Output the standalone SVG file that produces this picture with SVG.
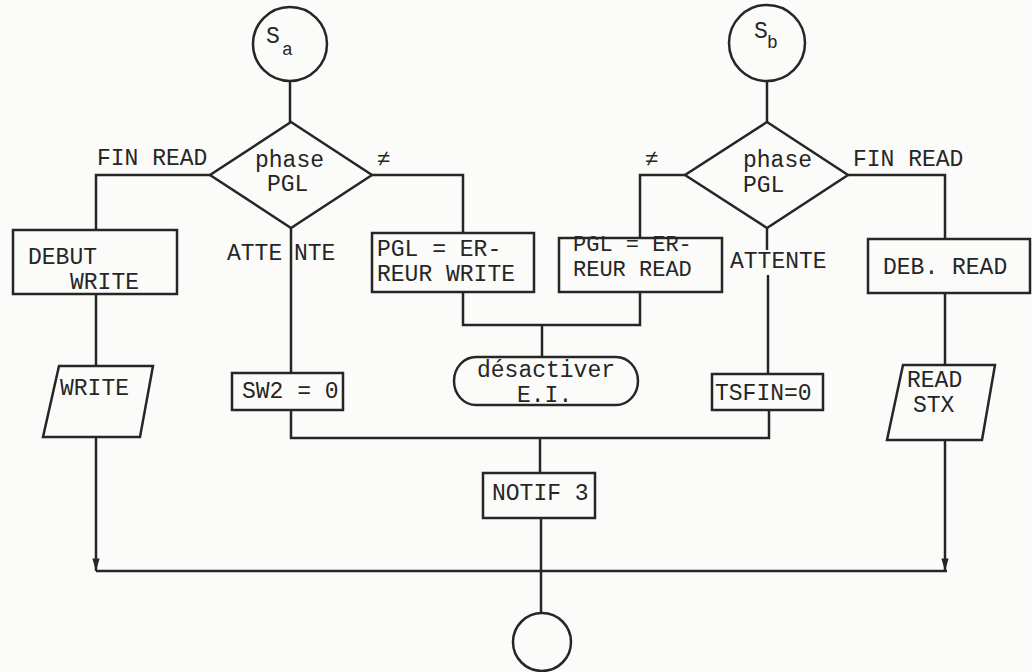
<svg xmlns="http://www.w3.org/2000/svg" width="1032" height="672" viewBox="0 0 1032 672">
<defs>
<style>
.s{fill:none;stroke:#262626;stroke-width:2.5;stroke-linejoin:miter}
.n{fill:#fbfbf9;stroke:#262626;stroke-width:2.5}
text{font-family:"Liberation Mono","DejaVu Sans Mono",monospace;font-size:23px;fill:#262626}
.sub{font-size:18px}
.t2{font-size:22px}
</style>
<marker id="ar" viewBox="0 0 14 10" refX="14" refY="5" markerWidth="13" markerHeight="9" orient="auto" markerUnits="userSpaceOnUse">
<path d="M0,1 L14,5 L0,9 Z" fill="#262626"/>
</marker>
</defs>
<rect x="0" y="0" width="1032" height="672" fill="#fbfbf9"/>

<g id="connectors" class="s">
<line x1="290" y1="81" x2="290" y2="122"/>
<line x1="767" y1="81" x2="767" y2="122"/>
<polyline points="210,175 96,175 96,230"/>
<polyline points="372,175 463,175 463,233"/>
<line x1="291" y1="228" x2="291" y2="373"/>
<polyline points="685,175 640,175 640,238"/>
<polyline points="848,175 945,175 945,239"/>
<line x1="767" y1="228" x2="767" y2="250"/>
<line x1="768" y1="275" x2="768" y2="374"/>
<line x1="96" y1="294" x2="96" y2="366"/>
<line x1="945" y1="293" x2="945" y2="365"/>
<polyline points="463,292 463,325 640,325 640,292"/>
<line x1="542" y1="325" x2="542" y2="357"/>
<polyline points="291,410 291,438 769,438 769,410"/>
<line x1="540" y1="438" x2="540" y2="473"/>
<line x1="541" y1="518" x2="541" y2="614"/>
<line x1="96" y1="437" x2="96" y2="571" marker-end="url(#ar)"/>
<line x1="945" y1="440" x2="945" y2="571" marker-end="url(#ar)"/>
<line x1="96" y1="571" x2="947" y2="571"/>
</g>

<g id="labels">
<text x="97" y="165">FIN READ</text>
<text x="377" y="166">≠</text>
<text x="227" y="260">ATTE</text>
<text x="294" y="260">NTE</text>
<text x="645" y="166">≠</text>
<text x="853" y="166">FIN READ</text>
<text x="730" y="268">ATTENTE</text>
</g>

<g id="start-a">
<circle class="n" cx="290" cy="44" r="37"/>
<text x="266" y="43">S</text><text class="sub" x="282" y="55">a</text>
</g>
<g id="start-b">
<circle class="n" cx="767" cy="43" r="38"/>
<text x="754" y="38">S</text><text class="sub" x="767" y="48">b</text>
</g>

<g id="decision-a">
<polygon class="n" points="291,122 372,175 291,228 210,175"/>
<text x="255" y="167">phase</text>
<text x="267" y="191">PGL</text>
</g>
<g id="decision-b">
<polygon class="n" points="767,122 848,175 767,228 685,175"/>
<text x="743" y="167">phase</text>
<text x="743" y="192">PGL</text>
</g>

<g id="debut-write">
<rect class="n" x="13" y="230" width="164" height="64"/>
<text x="28" y="264">DEBUT</text>
<text x="70" y="289">WRITE</text>
</g>
<g id="write-io">
<polygon class="n" points="59,366 153,366 140,437 43,437"/>
<text x="60" y="395">WRITE</text>
</g>
<g id="sw2">
<rect class="n" x="232" y="373" width="111" height="37"/>
<text x="242" y="398">SW2 = 0</text>
</g>
<g id="err-write">
<rect class="n" x="372" y="233" width="162" height="59"/>
<text x="377" y="256">PGL = ER-</text>
<text x="377" y="281">REUR WRITE</text>
</g>
<g id="err-read">
<rect class="n" x="559" y="238" width="163" height="54"/>
<text class="t2" x="573" y="251">PGL = ER-</text>
<text class="t2" x="573" y="276">REUR READ</text>
</g>
<g id="desactiver">
<path class="n" d="M476,357 L616,357 A22,24 0 0 1 616,405 L476,405 A22,24 0 0 1 476,357 Z"/>
<text x="477" y="377">désactiver</text>
<text x="517" y="402">E.I.</text>
</g>
<g id="tsfin">
<rect class="n" x="712" y="374" width="111" height="36"/>
<text x="715" y="400">TSFIN=0</text>
</g>
<g id="deb-read">
<rect class="n" x="868" y="239" width="162" height="54"/>
<text x="883" y="274">DEB. READ</text>
</g>
<g id="read-stx">
<polygon class="n" points="903,365 995,365 982,440 887,440"/>
<text x="907" y="387">READ</text>
<text x="913" y="412">STX</text>
</g>
<g id="notif3">
<rect class="n" x="483" y="473" width="112" height="45"/>
<text x="492" y="500">NOTIF 3</text>
</g>
<g id="end">
<circle class="n" cx="542" cy="642" r="29"/>
</g>
</svg>
